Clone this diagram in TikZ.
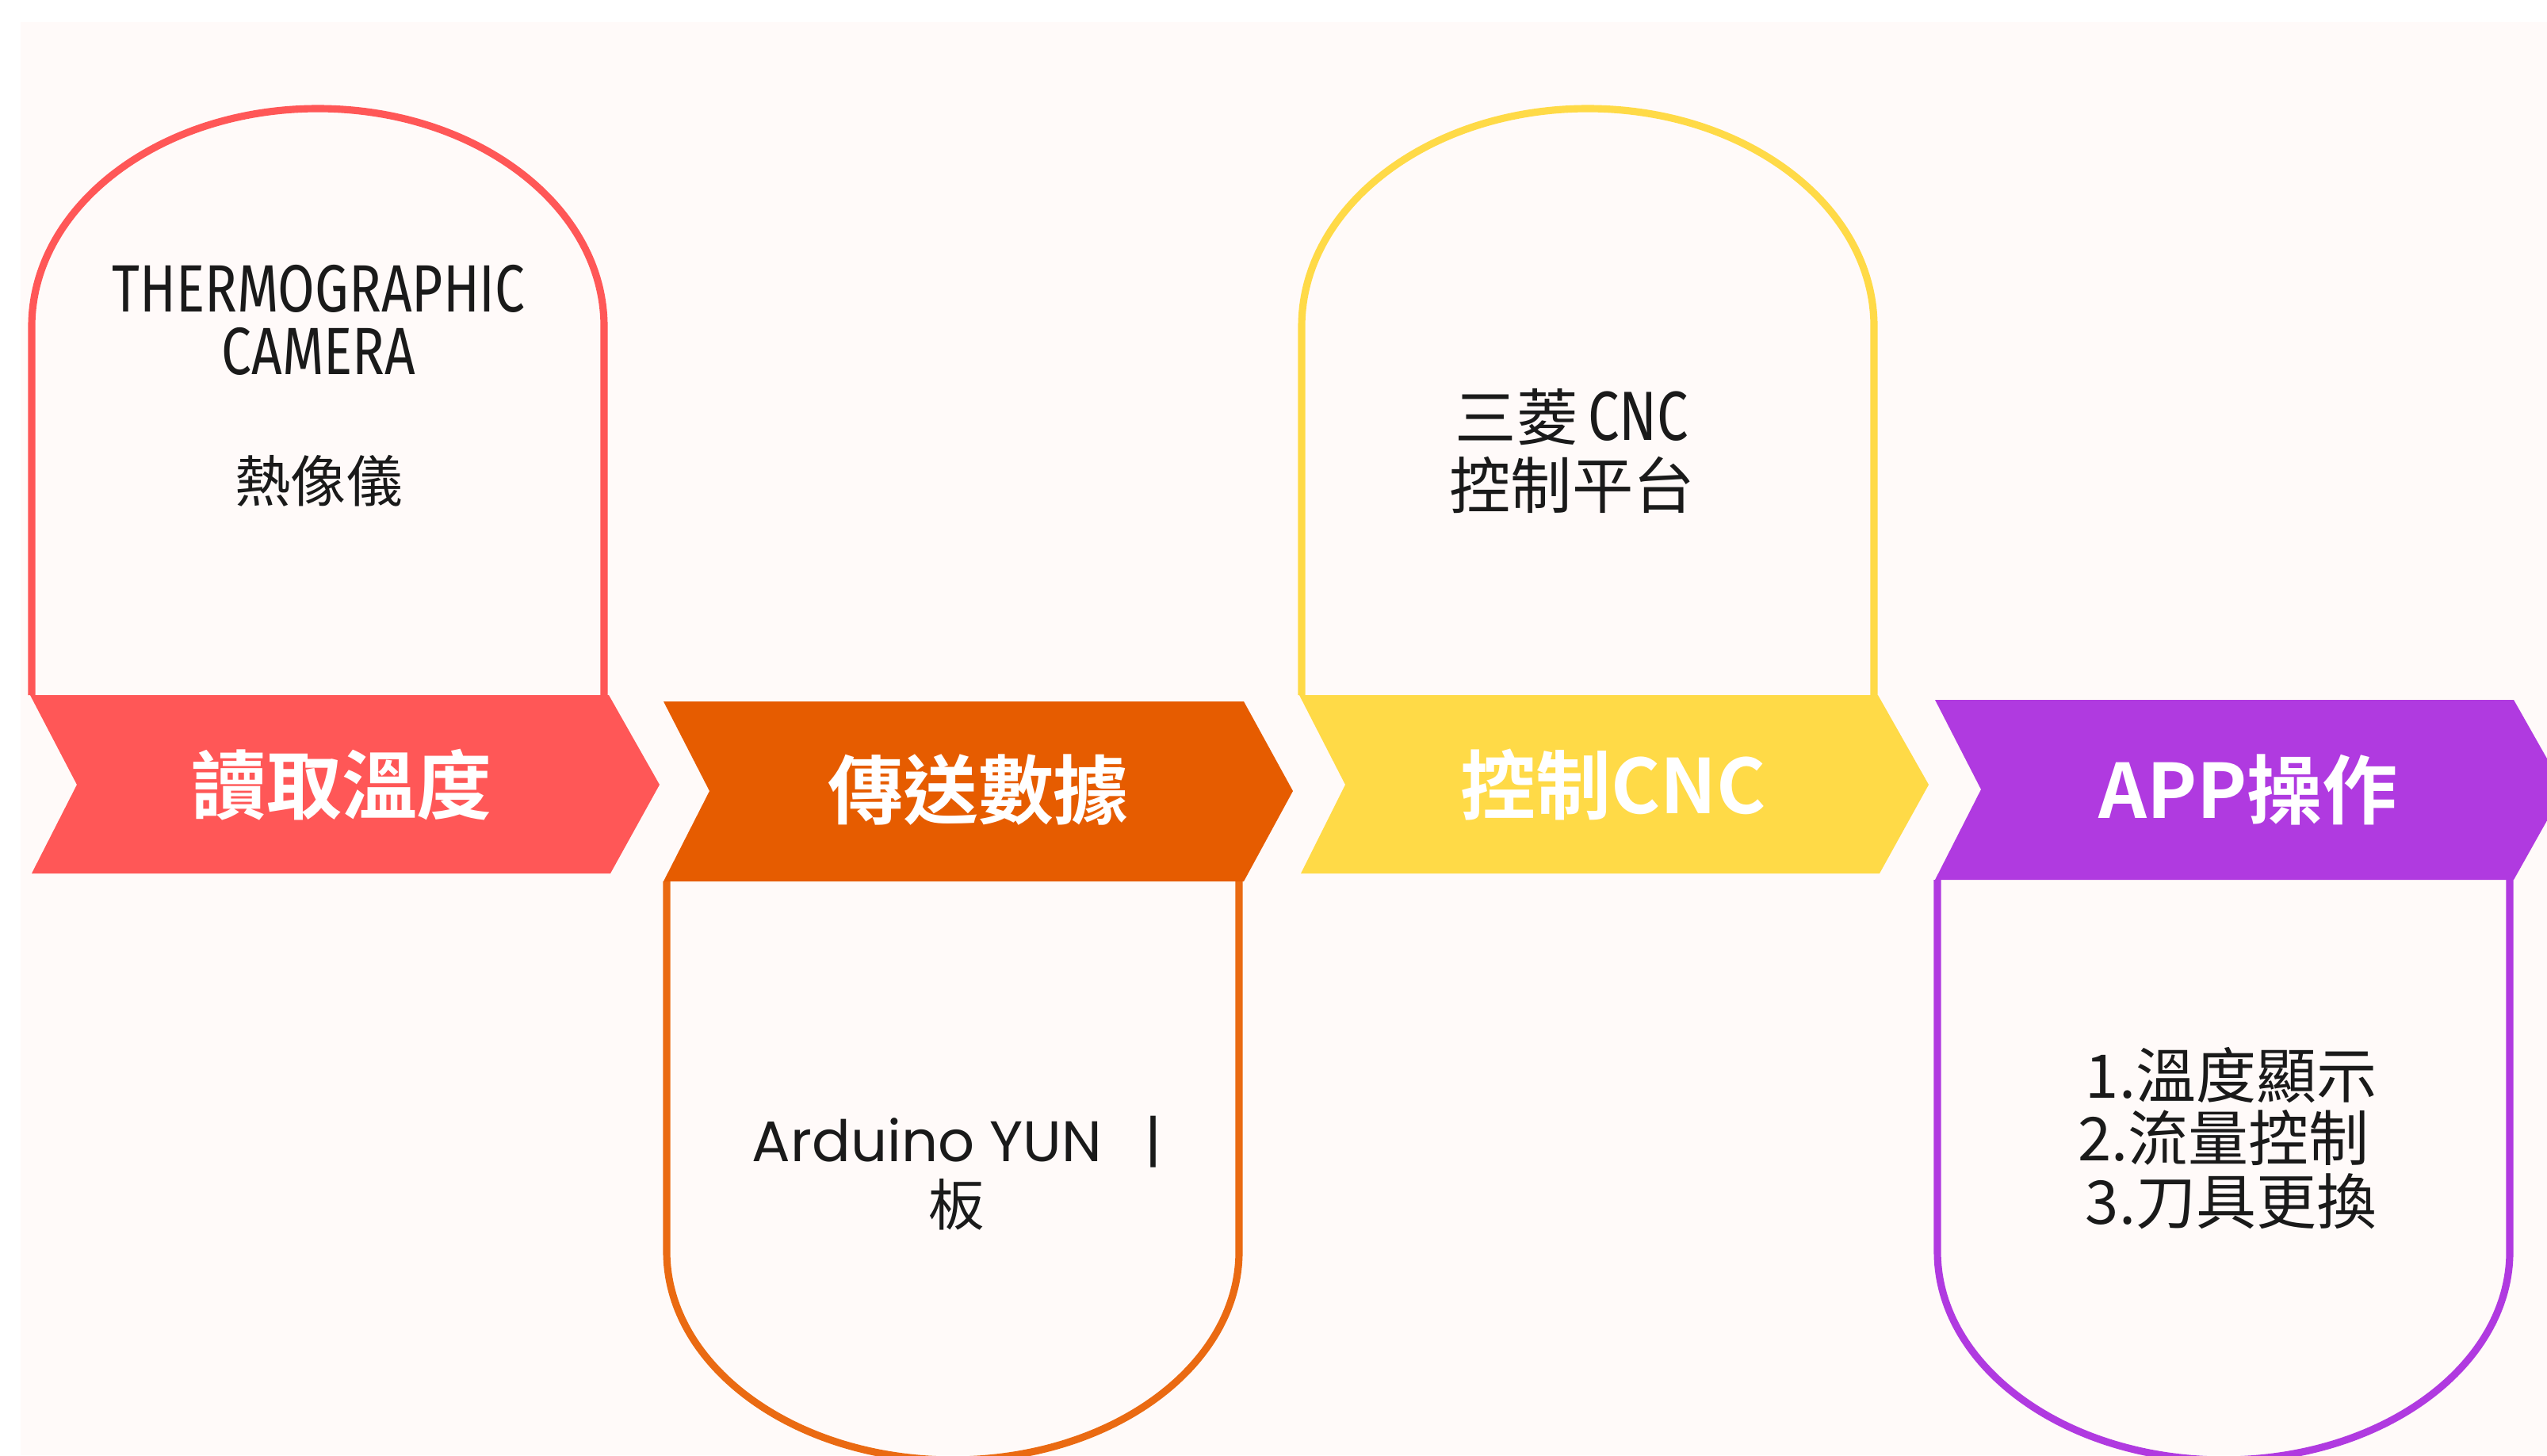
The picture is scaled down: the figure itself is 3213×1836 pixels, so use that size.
\documentclass[tikz,border=0pt]{standalone}
\usepackage{fontspec}
\newfontfamily\cjk[BoldFont={Noto Sans CJK TC Bold}]{Noto Sans CJK TC}
\newfontfamily\lat[FakeStretch=0.8]{Fira Sans}
\newfontfamily\geo{Poppins}
\definecolor{bgpink}{HTML}{FFFAF9}
\definecolor{cred}{HTML}{FF5757}
\definecolor{corange}{HTML}{E65C00}
\definecolor{corangeline}{HTML}{EA6A12}
\definecolor{cyellow}{HTML}{FFDA47}
\definecolor{cpurple}{HTML}{B03AE0}
\definecolor{ctext}{HTML}{1A1A1A}
\tikzset{
  x=0.01cm, y=-0.01cm,
  archline/.style={line width=2.6pt},
  band/.style={draw=none},
  bandlabel/.style={text=white, font=\cjk\bfseries\fontsize{27}{30}\selectfont, inner sep=0pt},
  archtext/.style={text=ctext, align=center, inner sep=0pt},
}
\begin{document}
\begin{tikzpicture}
\useasboundingbox (0,0) rectangle (3213,1836);
\clip (0,0) rectangle (3213,1836);
\fill[white] (0,0) rectangle (3213,1836);
\fill[bgpink] (26,28) rectangle (3213,1836);

% arch outlines
\draw[archline, cred] (40,877) -- (40,412) .. controls (40,260) and (202,137) .. (401,137)
  .. controls (600,137) and (762,260) .. (762,412) -- (762,877);
\draw[archline, corangeline] (841,1112) -- (841,1579) .. controls (841,1724) and (1003,1842) .. (1202,1842)
  .. controls (1401,1842) and (1563,1724) .. (1563,1579) -- (1563,1112);
\draw[archline, cyellow] (1642,877) -- (1642,412) .. controls (1642,260) and (1804,137) .. (2003,137)
  .. controls (2202,137) and (2364,260) .. (2364,412) -- (2364,877);
\draw[archline, cpurple] (2444,1110) -- (2444,1579) .. controls (2444,1724) and (2606,1842) .. (2805,1842)
  .. controls (3004,1842) and (3166,1724) .. (3166,1579) -- (3166,1110);

% bands
\fill[band, cred] (38,877) -- (768,877) -- (832,990) -- (770,1102) -- (40,1102) -- (97,990) -- cycle;
\fill[band, corange] (837,885) -- (1569,885) -- (1631,998) -- (1569,1112) -- (837,1112) -- (895,998) -- cycle;
\fill[band, cyellow] (1639,877) -- (2369,877) -- (2433,990) -- (2371,1102) -- (1641,1102) -- (1697,990) -- cycle;
\fill[band, cpurple] (2441,883) -- (3171,883) -- (3235,996) -- (3171,1110) -- (2441,1110) -- (2499,996) -- cycle;

% band labels
\node[bandlabel] (l1) at (431,990) {讀取溫度};
\node[bandlabel] (l2) at (1234,996) {傳送數據};
\node[bandlabel] (l3) at (2035,990) {控制CNC};
\node[bandlabel] (l4) at (2836,996) {APP操作};

% arch texts
\node[archtext, font=\lat\fontsize{24}{22.3}\selectfont] (t1) at (402,404) {THERMOGRAPHIC\\CAMERA};
\node[archtext, font=\cjk\fontsize{20}{22}\selectfont] (t1b) at (402,607) {熱像儀};
\node[archtext, font=\cjk\fontsize{22}{24.5}\selectfont] (t3) at (1983,569) {三菱\,{\lat\fontsize{25}{24.5}\selectfont CNC}\\控制平台};
\node[archtext, font=\cjk\fontsize{20}{23}\selectfont] (t2) at (1207,1480) {{\geo\fontsize{20.5}{23}\selectfont Arduino YUN\hspace{0.75em}|}\\板};
\node[archtext, font=\cjk\fontsize{21.6}{22.7}\selectfont] (t4) at (2805,1436) {\hspace{0.25em}1.溫度顯示\\2.流量控制\\\hspace{0.25em}3.刀具更換};
\end{tikzpicture}
\end{document}
